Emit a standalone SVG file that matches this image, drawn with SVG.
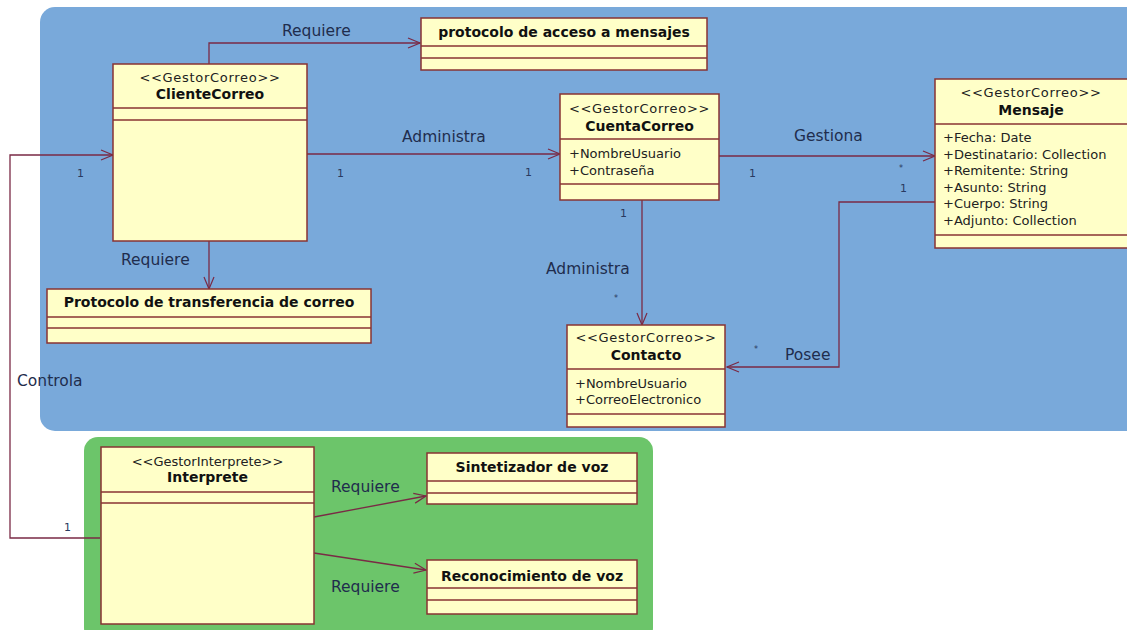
<svg xmlns="http://www.w3.org/2000/svg" width="1127" height="630" viewBox="0 0 1127 630">
<defs>
<marker id="open" markerWidth="14" markerHeight="12" refX="13" refY="6" orient="auto" markerUnits="userSpaceOnUse">
<path d="M1,1 L13,6 L1,11" fill="none" stroke="#7a2a45" stroke-width="1.2"/>
</marker>
</defs>
<style>
.box{fill:#ffffc8;stroke:#883333;stroke-width:1.5}
.div{stroke:#883333;stroke-width:1.5}
.st{font-family:"DejaVu Sans",Verdana,sans-serif;font-size:13px;letter-spacing:0.7px;fill:#222;text-anchor:middle}
.nm{font-family:"DejaVu Sans",Verdana,sans-serif;font-size:14px;font-weight:bold;fill:#111;text-anchor:middle}
.at{font-family:"DejaVu Sans",Verdana,sans-serif;font-size:13px;fill:#222}
.lb{font-family:"DejaVu Sans",Verdana,sans-serif;font-size:15.5px;fill:#1f2d4d}
.mu{font-family:"DejaVu Sans",Verdana,sans-serif;font-size:11px;fill:#2a3a60}
.ms{font-family:"DejaVu Sans",Verdana,sans-serif;font-size:8px;fill:#2a3a60}
.cn{fill:none;stroke:#7a2a45;stroke-width:1.3}
</style>
<rect width="1127" height="630" fill="#ffffff"/>
<rect x="40" y="7" width="1100" height="424" rx="15" fill="#79a9da"/>
<rect x="84" y="437" width="569" height="205" rx="14" fill="#6cc56a"/>

<g id="connectors">
<polyline class="cn" points="209,64 209,43 420,43" marker-end="url(#open)"/>
<line class="cn" x1="209" y1="241" x2="209" y2="289" marker-end="url(#open)"/>
<line class="cn" x1="307" y1="154" x2="560" y2="154" marker-end="url(#open)"/>
<line class="cn" x1="719" y1="156" x2="935" y2="156" marker-end="url(#open)"/>
<line class="cn" x1="642" y1="200" x2="642" y2="325" marker-end="url(#open)"/>
<polyline class="cn" points="935,202 839,202 839,367 727,367" marker-end="url(#open)"/>
<polyline class="cn" points="100,538 10,538 10,155 113,155" marker-end="url(#open)"/>
<line class="cn" x1="314" y1="517" x2="426" y2="496" marker-end="url(#open)"/>
<line class="cn" x1="314" y1="553" x2="426" y2="570" marker-end="url(#open)"/>
<text class="lb" x="282" y="36">Requiere</text>
<text class="lb" x="121" y="265">Requiere</text>
<text class="lb" x="402" y="142">Administra</text>
<text class="lb" x="794" y="141">Gestiona</text>
<text class="lb" x="546" y="274">Administra</text>
<text class="lb" x="785" y="360">Posee</text>
<text class="lb" x="17" y="386">Controla</text>
<text class="lb" x="331" y="492">Requiere</text>
<text class="lb" x="331" y="592">Requiere</text>
<text class="mu" x="77" y="177">1</text>
<text class="mu" x="337" y="177">1</text>
<text class="mu" x="525" y="176">1</text>
<text class="mu" x="749" y="177">1</text>
<text class="ms" x="899" y="171">*</text>
<text class="mu" x="900" y="192">1</text>
<text class="mu" x="620" y="217">1</text>
<text class="ms" x="614" y="301">*</text>
<text class="ms" x="754" y="352">*</text>
<text class="mu" x="64" y="531">1</text>
</g>

<g id="ClienteCorreo">
<rect class="box" x="113" y="64" width="194" height="177"/>
<line class="div" x1="113" y1="108" x2="307" y2="108"/>
<line class="div" x1="113" y1="120" x2="307" y2="120"/>
<text class="st" x="210" y="82">&lt;&lt;GestorCorreo&gt;&gt;</text>
<text class="nm" x="210" y="99">ClienteCorreo</text>
</g>

<g id="ProtocoloAcceso">
<rect class="box" x="421" y="18" width="286" height="52"/>
<line class="div" x1="421" y1="46" x2="707" y2="46"/>
<line class="div" x1="421" y1="58" x2="707" y2="58"/>
<text class="nm" x="564" y="37">protocolo de acceso a mensajes</text>
</g>

<g id="CuentaCorreo">
<rect class="box" x="560" y="94" width="159" height="106"/>
<line class="div" x1="560" y1="139" x2="719" y2="139"/>
<line class="div" x1="560" y1="184" x2="719" y2="184"/>
<text class="st" x="639.5" y="113">&lt;&lt;GestorCorreo&gt;&gt;</text>
<text class="nm" x="639.5" y="131">CuentaCorreo</text>
<text class="at" x="569" y="158">+NombreUsuario</text>
<text class="at" x="569" y="175">+Contraseña</text>
</g>

<g id="Mensaje">
<rect class="box" x="935" y="79" width="200" height="169"/>
<line class="div" x1="935" y1="124" x2="1135" y2="124"/>
<line class="div" x1="935" y1="235" x2="1135" y2="235"/>
<text class="st" x="1031" y="97">&lt;&lt;GestorCorreo&gt;&gt;</text>
<text class="nm" x="1031" y="115">Mensaje</text>
<text class="at" x="943" y="142">+Fecha: Date</text>
<text class="at" x="943" y="159">+Destinatario: Collection</text>
<text class="at" x="943" y="175">+Remitente: String</text>
<text class="at" x="943" y="192">+Asunto: String</text>
<text class="at" x="943" y="208">+Cuerpo: String</text>
<text class="at" x="943" y="225">+Adjunto: Collection</text>
</g>

<g id="ProtocoloTransferencia">
<rect class="box" x="47" y="289" width="324" height="54"/>
<line class="div" x1="47" y1="317" x2="371" y2="317"/>
<line class="div" x1="47" y1="328" x2="371" y2="328"/>
<text class="nm" x="209" y="307">Protocolo de transferencia de correo</text>
</g>

<g id="Contacto">
<rect class="box" x="567" y="325" width="158" height="102"/>
<line class="div" x1="567" y1="369" x2="725" y2="369"/>
<line class="div" x1="567" y1="414" x2="725" y2="414"/>
<text class="st" x="646" y="342">&lt;&lt;GestorCorreo&gt;&gt;</text>
<text class="nm" x="646" y="360">Contacto</text>
<text class="at" x="575" y="388">+NombreUsuario</text>
<text class="at" x="575" y="404">+CorreoElectronico</text>
</g>

<g id="Interprete">
<rect class="box" x="101" y="447" width="213" height="177"/>
<line class="div" x1="101" y1="492" x2="314" y2="492"/>
<line class="div" x1="101" y1="503" x2="314" y2="503"/>
<text class="st" x="207.5" y="466" style="letter-spacing:0">&lt;&lt;GestorInterprete&gt;&gt;</text>
<text class="nm" x="207.5" y="482">Interprete</text>
</g>

<g id="Sintetizador">
<rect class="box" x="427" y="453" width="210" height="51"/>
<line class="div" x1="427" y1="481" x2="637" y2="481"/>
<line class="div" x1="427" y1="493" x2="637" y2="493"/>
<text class="nm" x="532" y="472">Sintetizador de voz</text>
</g>

<g id="Reconocimiento">
<rect class="box" x="427" y="560" width="210" height="54"/>
<line class="div" x1="427" y1="588" x2="637" y2="588"/>
<line class="div" x1="427" y1="600" x2="637" y2="600"/>
<text class="nm" x="532" y="581">Reconocimiento de voz</text>
</g>
</svg>
